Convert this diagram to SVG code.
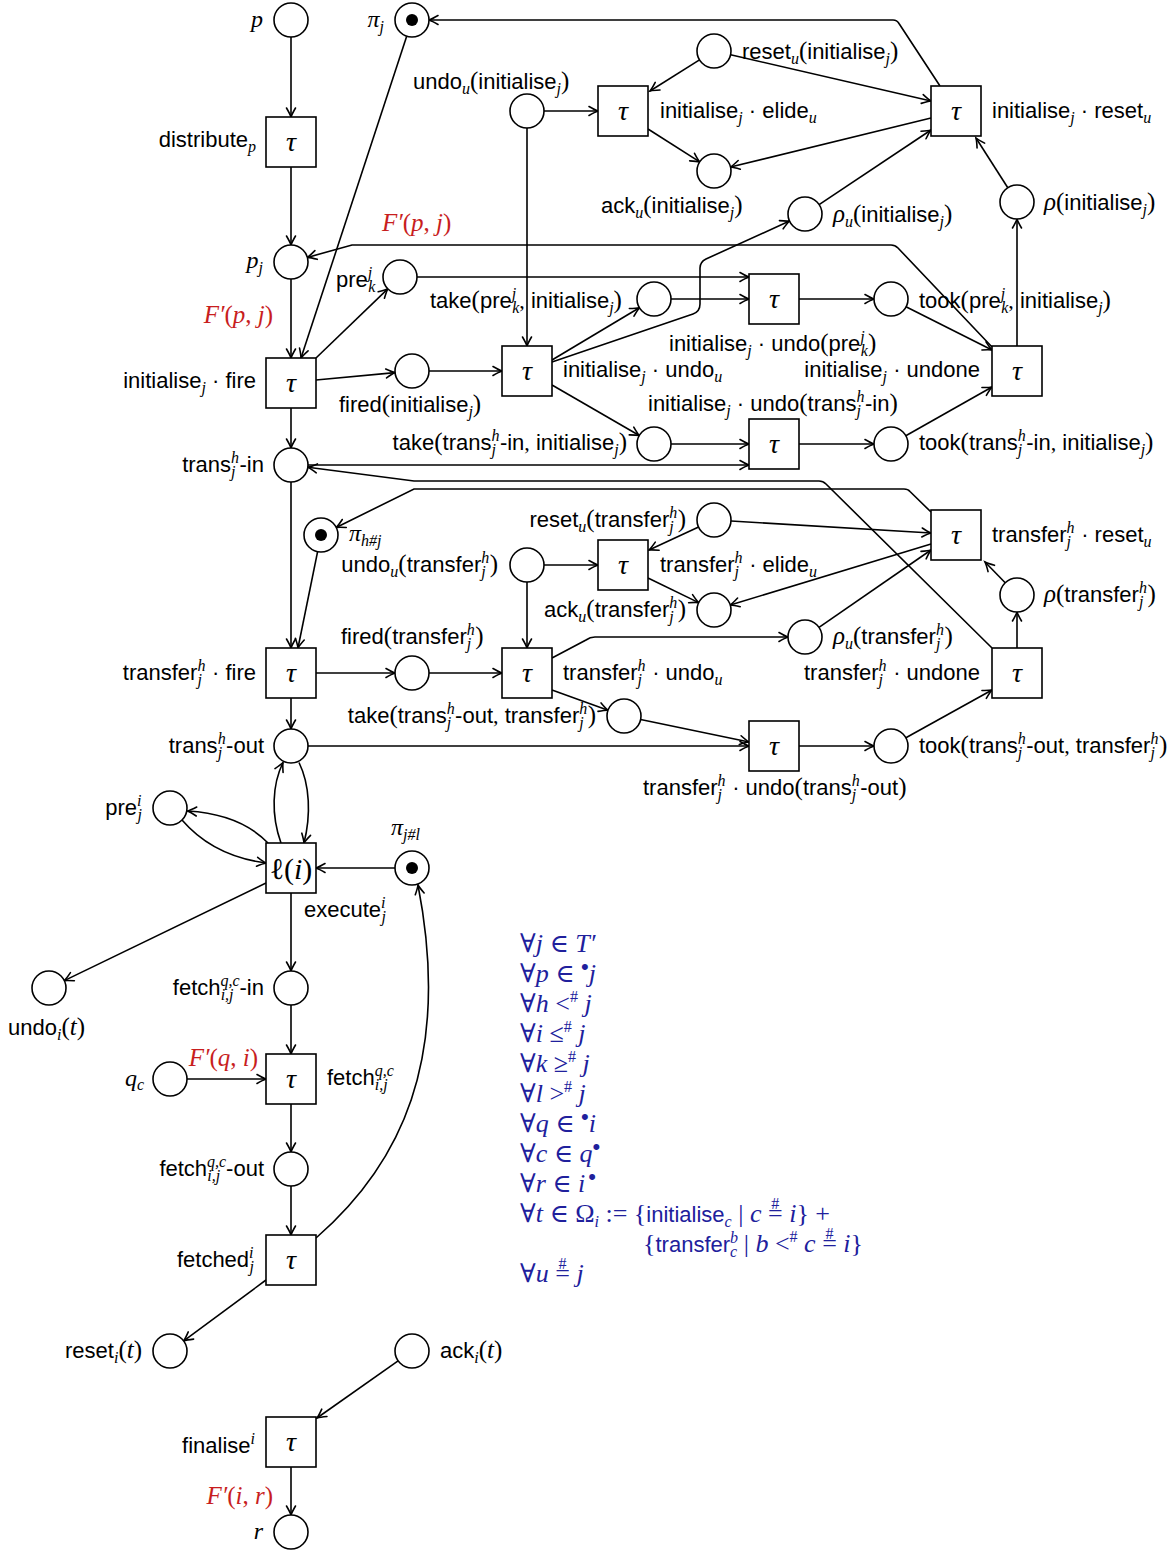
<svg xmlns="http://www.w3.org/2000/svg" width="1175" height="1551" viewBox="0 0 1175 1551">
<defs>
<style>
.s{font-family:"Liberation Sans",Arial,sans-serif;font-size:22px;fill:#000}
.m{font-family:"Liberation Serif","DejaVu Serif",serif;font-style:italic}
.u{font-family:"Liberation Serif","DejaVu Serif",serif;font-style:normal}
.f{font-size:16px}
.L{font-size:25px}
.mt{font-family:"Liberation Serif","DejaVu Serif",serif;font-style:italic;font-size:24px;fill:#000}
.red{font-family:"Liberation Serif","DejaVu Serif",serif;font-style:italic;font-size:25px;fill:#c81e1e}
.bl{font-family:"Liberation Serif","DejaVu Serif",serif;font-style:italic;font-size:26px;fill:#20209c}
.sb{font-family:"Liberation Sans",Arial,sans-serif;font-style:normal;font-size:22px}
.bu{font-family:"Liberation Sans",Arial,sans-serif;font-style:normal;font-size:22px}
.pl{fill:#fff;stroke:#000;stroke-width:1.6}
.tr{fill:#fff;stroke:#000;stroke-width:1.6}
.tok{fill:#000}
.tau{font-family:"Liberation Serif","DejaVu Serif",serif;font-style:italic;font-size:28px;text-anchor:middle}
.c{fill:none;stroke:#000;stroke-width:1.6;marker-end:url(#a)}
</style>
<marker id="a" viewBox="-10 -6 12 12" refX="0" refY="0" markerWidth="12" markerHeight="12" markerUnits="userSpaceOnUse" orient="auto" overflow="visible">
<path d="M-9,-4.5 Q-3,-1 0,0 Q-3,1 -9,4.5" fill="none" stroke="#000" stroke-width="1.6" stroke-linecap="round"/>
</marker>
</defs>
<rect width="1175" height="1551" fill="#fff"/>

<g id="connectors">
<path class="c" d="M291,37 L291,117"/>
<path class="c" d="M291,167 L291,245"/>
<path class="c" d="M406.7,36.2 L301,358"/>
<path class="c" d="M291,279 L291,358"/>
<path class="c" d="M992,347 L898,248 Q895,245 891,245 L352,245 L307.4,257.4"/>
<path class="c" d="M940,86 L899,23.5 Q897,20 893,20 L429,20"/>
<path class="c" d="M316,358 L387.8,288.8"/>
<path class="c" d="M417,277 L749,277"/>
<path class="c" d="M671,299 L749,299"/>
<path class="c" d="M552,360 L639.4,307.7"/>
<path class="c" d="M552,362 L693,314 Q700,311.5 700,304 L700,268 Q700,262 706,259 L789.5,221"/>
<path class="c" d="M799,299 L874,299"/>
<path class="c" d="M906,306.7 L992,350"/>
<path class="c" d="M1017,346 L1017,219"/>
<path class="c" d="M1007.8,187.7 L976,138"/>
<path class="c" d="M819.1,204.6 L931,130"/>
<path class="c" d="M699.5,59.9 L650,91"/>
<path class="c" d="M730.6,54.8 L931,101"/>
<path class="c" d="M648,129 L699.7,161.9"/>
<path class="c" d="M931,118 L730.5,167"/>
<path class="c" d="M544,111 L598,111"/>
<path class="c" d="M527,128 L527,346"/>
<path class="c" d="M316,380 L395.1,372.6"/>
<path class="c" d="M429,371 L502,371"/>
<path class="c" d="M552,385 L639.3,435.5"/>
<path class="c" d="M671,444 L749,444"/>
<path class="c" d="M799,444 L874,444"/>
<path class="c" d="M905.8,435.7 L992,387"/>
<path class="c" d="M291,408 L291,448"/>
<path class="c" d="M308,465 L749,465"/>
<path class="c" d="M992,648 L826,484 Q823,481 819,481 L414,481 L307.9,467.2"/>
<path class="c" d="M931,512 L910,491.5 Q908,489 904,489 L414,489 L336.2,527.5"/>
<path class="c" d="M291,482 L291,648"/>
<path class="c" d="M317.6,551.7 L298,648"/>
<path class="c" d="M698.6,527.1 L649,550"/>
<path class="c" d="M731,521 L931,533"/>
<path class="c" d="M544,565 L598,565"/>
<path class="c" d="M648,578 L698.7,602.6"/>
<path class="c" d="M931,544 L730.3,605"/>
<path class="c" d="M1005.2,582.8 L985,562"/>
<path class="c" d="M819,627.3 L931,550"/>
<path class="c" d="M1017,648 L1017,612"/>
<path class="c" d="M527,582 L527,648"/>
<path class="c" d="M316,673 L395,673"/>
<path class="c" d="M429,673 L502,673"/>
<path class="c" d="M552,658 L586,640 Q590,637 595,637 L788,637"/>
<path class="c" d="M552,690 L608,710.2"/>
<path class="c" d="M640.6,719.5 L749,742"/>
<path class="c" d="M308,746 L749,746"/>
<path class="c" d="M799,746 L874,746"/>
<path class="c" d="M905.9,737.8 L992,690"/>
<path class="c" d="M291,698 L291,729"/>
<path class="c" d="M281,843 C271,815 272,785 283,762.5"/>
<path class="c" d="M299,762.5 C310,785 311,815 304,843"/>
<path class="c" d="M268,843 Q240,814 187.5,811"/>
<path class="c" d="M182,820 Q213,856 266,863"/>
<path class="c" d="M395,868 L316,868"/>
<path class="c" d="M266,883 L64.3,980.6"/>
<path class="c" d="M291,893 L291,971"/>
<path class="c" d="M291,1005 L291,1054"/>
<path class="c" d="M187,1079 L266,1079"/>
<path class="c" d="M291,1104 L291,1152"/>
<path class="c" d="M291,1186 L291,1235"/>
<path class="c" d="M316,1238 C400,1165 452,1060 418,885"/>
<path class="c" d="M266,1280 L183.7,1340.9"/>
<path class="c" d="M398.1,1360.8 L317,1418"/>
<path class="c" d="M291,1467 L291,1515"/>
<text class="red" x="382" y="231">F′<tspan class="u">(</tspan>p<tspan class="u">,</tspan> j<tspan class="u">)</tspan></text>
<text class="red" x="273" y="323" text-anchor="end">F′<tspan class="u">(</tspan>p<tspan class="u">,</tspan> j<tspan class="u">)</tspan></text>
<text class="red" x="258" y="1066" text-anchor="end">F′<tspan class="u">(</tspan>q<tspan class="u">,</tspan> i<tspan class="u">)</tspan></text>
<text class="red" x="273" y="1504" text-anchor="end">F′<tspan class="u">(</tspan>i<tspan class="u">,</tspan> r<tspan class="u">)</tspan></text>
</g>

<!-- left column -->
<g id="p"><circle class="pl" cx="291" cy="20" r="17"/><text class="mt" x="263" y="27" text-anchor="end">p</text></g>
<g id="pi_j"><circle class="pl" cx="412" cy="20" r="17"/><circle class="tok" cx="412" cy="20" r="6"/><text class="mt" x="384" y="27" text-anchor="end">π<tspan class="f" dy="5">j</tspan></text></g>
<g id="distribute"><rect class="tr" x="266" y="117" width="50" height="50"/><text class="tau" x="291" y="151">τ</text><text class="s" x="256" y="147" text-anchor="end">distribute<tspan class="m f" dy="5">p</tspan></text></g>
<g id="p_j"><circle class="pl" cx="291" cy="262" r="17"/><text class="mt" x="263" y="268" text-anchor="end">p<tspan class="f" dy="5">j</tspan></text></g>
<g id="init_fire"><rect class="tr" x="266" y="358" width="50" height="50"/><text class="tau" x="291" y="392">τ</text><text class="s" x="256" y="388" text-anchor="end">initialise<tspan class="m f" dy="5">j</tspan><tspan dy="-5"> · fire</tspan></text></g>
<g id="trans_in"><circle class="pl" cx="291" cy="465" r="17"/><text class="s" x="264" y="472" text-anchor="end">trans<tspan class="m f" dy="-9">h</tspan><tspan class="m f" dx="-8" dy="14">j</tspan><tspan dx="4" dy="-5">-in</tspan></text></g>
<g id="pi_hj"><circle class="pl" cx="321" cy="535" r="17"/><circle class="tok" cx="321" cy="535" r="6"/><text class="mt" x="349" y="541">π<tspan class="f" dy="5">h#j</tspan></text></g>
<g id="transfer_fire"><rect class="tr" x="266" y="648" width="50" height="50"/><text class="tau" x="291" y="682">τ</text><text class="s" x="256" y="680" text-anchor="end">transfer<tspan class="m f" dy="-9">h</tspan><tspan class="m f" dx="-8" dy="14">j</tspan><tspan dx="4" dy="-5"> · fire</tspan></text></g>
<g id="trans_out"><circle class="pl" cx="291" cy="746" r="17"/><text class="s" x="264" y="753" text-anchor="end">trans<tspan class="m f" dy="-9">h</tspan><tspan class="m f" dx="-8" dy="14">j</tspan><tspan dx="4" dy="-5">-out</tspan></text></g>
<g id="pre_ji"><circle class="pl" cx="170" cy="808" r="17"/><text class="s" x="142" y="815" text-anchor="end">pre<tspan class="m f" dy="-9">i</tspan><tspan class="m f" dx="-4" dy="14">j</tspan></text></g>
<g id="ell_i"><rect class="tr" x="266" y="843" width="50" height="50"/><text class="u" x="291" y="879" text-anchor="middle" style="font-size:30px">ℓ(<tspan class="m">i</tspan>)</text><text class="s" x="304" y="917">execute<tspan class="m f" dy="-9">i</tspan><tspan class="m f" dx="-4" dy="14">j</tspan></text></g>
<g id="pi_jl"><circle class="pl" cx="412" cy="868" r="17"/><circle class="tok" cx="412" cy="868" r="6"/><text class="mt" x="391" y="835">π<tspan class="f" dy="5">j#l</tspan></text></g>
<g id="undo_i"><circle class="pl" cx="49" cy="988" r="17"/><text class="s" x="8" y="1035">undo<tspan class="m f" dy="5">i</tspan><tspan class="u L" dy="-5">(</tspan><tspan class="m L">t</tspan><tspan class="u L">)</tspan></text></g>
<g id="fetch_in"><circle class="pl" cx="291" cy="988" r="17"/><text class="s" x="264" y="995" text-anchor="end">fetch<tspan class="m f" dy="-9">q,c</tspan><tspan class="m f" dx="-19" dy="14">i,j</tspan><tspan dx="6" dy="-5">-in</tspan></text></g>
<g id="q_c"><circle class="pl" cx="170" cy="1079" r="17"/><text class="mt" x="144" y="1086" text-anchor="end">q<tspan class="f" dy="4">c</tspan></text></g>
<g id="fetch"><rect class="tr" x="266" y="1054" width="50" height="50"/><text class="tau" x="291" y="1088">τ</text><text class="s" x="327" y="1085">fetch<tspan class="m f" dy="-9">q,c</tspan><tspan class="m f" dx="-19" dy="14">i,j</tspan></text></g>
<g id="fetch_out"><circle class="pl" cx="291" cy="1169" r="17"/><text class="s" x="264" y="1176" text-anchor="end">fetch<tspan class="m f" dy="-9">q,c</tspan><tspan class="m f" dx="-19" dy="14">i,j</tspan><tspan dx="6" dy="-5">-out</tspan></text></g>
<g id="fetched"><rect class="tr" x="266" y="1235" width="50" height="50"/><text class="tau" x="291" y="1269">τ</text><text class="s" x="254" y="1267" text-anchor="end">fetched<tspan class="m f" dy="-9">i</tspan><tspan class="m f" dx="-4" dy="14">j</tspan></text></g>
<g id="reset_i"><circle class="pl" cx="170" cy="1351" r="17"/><text class="s" x="142" y="1358" text-anchor="end">reset<tspan class="m f" dy="5">i</tspan><tspan class="u L" dy="-5">(</tspan><tspan class="m L">t</tspan><tspan class="u L">)</tspan></text></g>
<g id="ack_i"><circle class="pl" cx="412" cy="1351" r="17"/><text class="s" x="440" y="1358">ack<tspan class="m f" dy="5">i</tspan><tspan class="u L" dy="-5">(</tspan><tspan class="m L">t</tspan><tspan class="u L">)</tspan></text></g>
<g id="finalise"><rect class="tr" x="266" y="1417" width="50" height="50"/><text class="tau" x="291" y="1451">τ</text><text class="s" x="255" y="1453" text-anchor="end">finalise<tspan class="m f" dy="-9">i</tspan></text></g>
<g id="r"><circle class="pl" cx="291" cy="1532" r="17"/><text class="mt" x="263" y="1539" text-anchor="end">r</text></g>

<!-- initialise undo region -->
<g id="undo_u_init"><circle class="pl" cx="527" cy="111" r="17"/><text class="s" x="413" y="89">undo<tspan class="m f" dy="5">u</tspan><tspan class="u L" dy="-5">(</tspan>initialise<tspan class="m f" dy="5">j</tspan><tspan class="u L" dy="-5">)</tspan></text></g>
<g id="elide_init"><rect class="tr" x="598" y="86" width="50" height="50"/><text class="tau" x="623" y="120">τ</text><text class="s" x="660" y="118">initialise<tspan class="m f" dy="5">j</tspan><tspan dy="-5"> · elide</tspan><tspan class="m f" dy="5">u</tspan></text></g>
<g id="reset_u_init_p"><circle class="pl" cx="714" cy="51" r="17"/><text class="s" x="742" y="59">reset<tspan class="m f" dy="5">u</tspan><tspan class="u L" dy="-5">(</tspan>initialise<tspan class="m f" dy="5">j</tspan><tspan class="u L" dy="-5">)</tspan></text></g>
<g id="ack_u_init"><circle class="pl" cx="714" cy="171" r="17"/><text class="s" x="601" y="213">ack<tspan class="m f" dy="5">u</tspan><tspan class="u L" dy="-5">(</tspan>initialise<tspan class="m f" dy="5">j</tspan><tspan class="u L" dy="-5">)</tspan></text></g>
<g id="reset_init_t"><rect class="tr" x="931" y="86" width="50" height="50"/><text class="tau" x="956" y="120">τ</text><text class="s" x="992" y="118">initialise<tspan class="m f" dy="5">j</tspan><tspan dy="-5"> · reset</tspan><tspan class="m f" dy="5">u</tspan></text></g>
<g id="rho_u_init"><circle class="pl" cx="805" cy="214" r="17"/><text class="s" x="833" y="222"><tspan class="m L">ρ</tspan><tspan class="m f" dy="5">u</tspan><tspan class="u L" dy="-5">(</tspan>initialise<tspan class="m f" dy="5">j</tspan><tspan class="u L" dy="-5">)</tspan></text></g>
<g id="rho_init"><circle class="pl" cx="1017" cy="202" r="17"/><text class="s" x="1044" y="210"><tspan class="m L">ρ</tspan><tspan class="u L">(</tspan>initialise<tspan class="m f" dy="5">j</tspan><tspan class="u L" dy="-5">)</tspan></text></g>
<g id="pre_kj"><circle class="pl" cx="400" cy="277" r="17"/><text class="s" x="336" y="287">pre<tspan class="m f" dy="-9">j</tspan><tspan class="m f" dx="-4" dy="14">k</tspan></text></g>
<g id="take_pre"><circle class="pl" cx="654" cy="299" r="17"/><text class="s" x="430" y="308">take<tspan class="u L">(</tspan>pre<tspan class="m f" dy="-9">j</tspan><tspan class="m f" dx="-4" dy="14">k</tspan><tspan class="u" dy="-5">,</tspan> initialise<tspan class="m f" dy="5">j</tspan><tspan class="u L" dy="-5">)</tspan></text></g>
<g id="undo_pre"><rect class="tr" x="749" y="274" width="50" height="50"/><text class="tau" x="774" y="308">τ</text><text class="s" x="669" y="351">initialise<tspan class="m f" dy="5">j</tspan><tspan dy="-5"> · undo</tspan><tspan class="u L">(</tspan>pre<tspan class="m f" dy="-9">j</tspan><tspan class="m f" dx="-4" dy="14">k</tspan><tspan class="u L" dy="-5">)</tspan></text></g>
<g id="took_pre"><circle class="pl" cx="891" cy="299" r="17"/><text class="s" x="919" y="308">took<tspan class="u L">(</tspan>pre<tspan class="m f" dy="-9">j</tspan><tspan class="m f" dx="-4" dy="14">k</tspan><tspan class="u" dy="-5">,</tspan> initialise<tspan class="m f" dy="5">j</tspan><tspan class="u L" dy="-5">)</tspan></text></g>
<g id="undone_init"><rect class="tr" x="992" y="346" width="50" height="50"/><text class="tau" x="1017" y="380">τ</text><text class="s" x="980" y="377" text-anchor="end">initialise<tspan class="m f" dy="5">j</tspan><tspan dy="-5"> · undone</tspan></text></g>
<g id="fired_init"><circle class="pl" cx="412" cy="371" r="17"/><text class="s" x="339" y="412">fired<tspan class="u L">(</tspan>initialise<tspan class="m f" dy="5">j</tspan><tspan class="u L" dy="-5">)</tspan></text></g>
<g id="undo_u_init_t"><rect class="tr" x="502" y="346" width="50" height="50"/><text class="tau" x="527" y="380">τ</text><text class="s" x="563" y="377">initialise<tspan class="m f" dy="5">j</tspan><tspan dy="-5"> · undo</tspan><tspan class="m f" dy="5">u</tspan></text></g>
<g id="take_tin"><circle class="pl" cx="654" cy="444" r="17"/><text class="s" x="627" y="450" text-anchor="end">take<tspan class="u L">(</tspan>trans<tspan class="m f" dy="-9">h</tspan><tspan class="m f" dx="-8" dy="14">j</tspan><tspan dx="4" dy="-5">-in</tspan><tspan class="u">,</tspan> initialise<tspan class="m f" dy="5">j</tspan><tspan class="u L" dy="-5">)</tspan></text></g>
<g id="undo_tin"><rect class="tr" x="749" y="419" width="50" height="50"/><text class="tau" x="774" y="453">τ</text><text class="s" x="648" y="411">initialise<tspan class="m f" dy="5">j</tspan><tspan dy="-5"> · undo</tspan><tspan class="u L">(</tspan>trans<tspan class="m f" dy="-9">h</tspan><tspan class="m f" dx="-8" dy="14">j</tspan><tspan dx="4" dy="-5">-in</tspan><tspan class="u L">)</tspan></text></g>
<g id="took_tin"><circle class="pl" cx="891" cy="444" r="17"/><text class="s" x="919" y="450">took<tspan class="u L">(</tspan>trans<tspan class="m f" dy="-9">h</tspan><tspan class="m f" dx="-8" dy="14">j</tspan><tspan dx="4" dy="-5">-in</tspan><tspan class="u">,</tspan> initialise<tspan class="m f" dy="5">j</tspan><tspan class="u L" dy="-5">)</tspan></text></g>

<!-- transfer undo region -->
<g id="reset_u_tr_p"><circle class="pl" cx="714" cy="520" r="17"/><text class="s" x="686" y="527" text-anchor="end">reset<tspan class="m f" dy="5">u</tspan><tspan class="u L" dy="-5">(</tspan>transfer<tspan class="m f" dy="-9">h</tspan><tspan class="m f" dx="-8" dy="14">j</tspan><tspan class="u L" dx="4" dy="-5">)</tspan></text></g>
<g id="reset_tr_t"><rect class="tr" x="931" y="510" width="50" height="50"/><text class="tau" x="956" y="544">τ</text><text class="s" x="992" y="542">transfer<tspan class="m f" dy="-9">h</tspan><tspan class="m f" dx="-8" dy="14">j</tspan><tspan dx="4" dy="-5"> · reset</tspan><tspan class="m f" dy="5">u</tspan></text></g>
<g id="undo_u_tr_p"><circle class="pl" cx="527" cy="565" r="17"/><text class="s" x="498" y="572" text-anchor="end">undo<tspan class="m f" dy="5">u</tspan><tspan class="u L" dy="-5">(</tspan>transfer<tspan class="m f" dy="-9">h</tspan><tspan class="m f" dx="-8" dy="14">j</tspan><tspan class="u L" dx="4" dy="-5">)</tspan></text></g>
<g id="elide_tr"><rect class="tr" x="598" y="540" width="50" height="50"/><text class="tau" x="623" y="574">τ</text><text class="s" x="660" y="572">transfer<tspan class="m f" dy="-9">h</tspan><tspan class="m f" dx="-8" dy="14">j</tspan><tspan dx="4" dy="-5"> · elide</tspan><tspan class="m f" dy="5">u</tspan></text></g>
<g id="ack_u_tr"><circle class="pl" cx="714" cy="610" r="17"/><text class="s" x="686" y="617" text-anchor="end">ack<tspan class="m f" dy="5">u</tspan><tspan class="u L" dy="-5">(</tspan>transfer<tspan class="m f" dy="-9">h</tspan><tspan class="m f" dx="-8" dy="14">j</tspan><tspan class="u L" dx="4" dy="-5">)</tspan></text></g>
<g id="rho_tr"><circle class="pl" cx="1017" cy="595" r="17"/><text class="s" x="1044" y="602"><tspan class="m L">ρ</tspan><tspan class="u L">(</tspan>transfer<tspan class="m f" dy="-9">h</tspan><tspan class="m f" dx="-8" dy="14">j</tspan><tspan class="u L" dx="4" dy="-5">)</tspan></text></g>
<g id="rho_u_tr"><circle class="pl" cx="805" cy="637" r="17"/><text class="s" x="833" y="644"><tspan class="m L">ρ</tspan><tspan class="m f" dy="5">u</tspan><tspan class="u L" dy="-5">(</tspan>transfer<tspan class="m f" dy="-9">h</tspan><tspan class="m f" dx="-8" dy="14">j</tspan><tspan class="u L" dx="4" dy="-5">)</tspan></text></g>
<g id="fired_tr"><circle class="pl" cx="412" cy="673" r="17"/><text class="s" x="341" y="644">fired<tspan class="u L">(</tspan>transfer<tspan class="m f" dy="-9">h</tspan><tspan class="m f" dx="-8" dy="14">j</tspan><tspan class="u L" dx="4" dy="-5">)</tspan></text></g>
<g id="undo_u_tr_t"><rect class="tr" x="502" y="648" width="50" height="50"/><text class="tau" x="527" y="682">τ</text><text class="s" x="563" y="680">transfer<tspan class="m f" dy="-9">h</tspan><tspan class="m f" dx="-8" dy="14">j</tspan><tspan dx="4" dy="-5"> · undo</tspan><tspan class="m f" dy="5">u</tspan></text></g>
<g id="undone_tr"><rect class="tr" x="992" y="648" width="50" height="50"/><text class="tau" x="1017" y="682">τ</text><text class="s" x="980" y="680" text-anchor="end">transfer<tspan class="m f" dy="-9">h</tspan><tspan class="m f" dx="-8" dy="14">j</tspan><tspan dx="4" dy="-5"> · undone</tspan></text></g>
<g id="take_tout"><circle class="pl" cx="624" cy="716" r="17"/><text class="s" x="596" y="723" text-anchor="end">take<tspan class="u L">(</tspan>trans<tspan class="m f" dy="-9">h</tspan><tspan class="m f" dx="-8" dy="14">j</tspan><tspan dx="4" dy="-5">-out</tspan><tspan class="u">,</tspan> transfer<tspan class="m f" dy="-9">h</tspan><tspan class="m f" dx="-8" dy="14">j</tspan><tspan class="u L" dx="4" dy="-5">)</tspan></text></g>
<g id="undo_tout"><rect class="tr" x="749" y="721" width="50" height="50"/><text class="tau" x="774" y="755">τ</text><text class="s" x="643" y="795">transfer<tspan class="m f" dy="-9">h</tspan><tspan class="m f" dx="-8" dy="14">j</tspan><tspan dx="4" dy="-5"> · undo</tspan><tspan class="u L">(</tspan>trans<tspan class="m f" dy="-9">h</tspan><tspan class="m f" dx="-8" dy="14">j</tspan><tspan dx="4" dy="-5">-out</tspan><tspan class="u L">)</tspan></text></g>
<g id="took_tout"><circle class="pl" cx="891" cy="746" r="17"/><text class="s" x="919" y="753">took<tspan class="u L">(</tspan>trans<tspan class="m f" dy="-9">h</tspan><tspan class="m f" dx="-8" dy="14">j</tspan><tspan dx="4" dy="-5">-out</tspan><tspan class="u">,</tspan> transfer<tspan class="m f" dy="-9">h</tspan><tspan class="m f" dx="-8" dy="14">j</tspan><tspan class="u L" dx="4" dy="-5">)</tspan></text></g>

<g id="constraints" class="bl">
<text x="520" y="952"><tspan class="u">∀</tspan>j <tspan class="u">∈</tspan> T′</text>
<text x="520" y="982"><tspan class="u">∀</tspan>p <tspan class="u">∈ </tspan><tspan class="bu" dy="-8">•</tspan><tspan dy="8">j</tspan></text>
<text x="520" y="1012"><tspan class="u">∀</tspan>h <tspan class="u">&lt;</tspan><tspan class="u f" dy="-10">#</tspan><tspan dy="10"> j</tspan></text>
<text x="520" y="1042"><tspan class="u">∀</tspan>i <tspan class="u">≤</tspan><tspan class="u f" dy="-10">#</tspan><tspan dy="10"> j</tspan></text>
<text x="520" y="1072"><tspan class="u">∀</tspan>k <tspan class="u">≥</tspan><tspan class="u f" dy="-10">#</tspan><tspan dy="10"> j</tspan></text>
<text x="520" y="1102"><tspan class="u">∀</tspan>l <tspan class="u">&gt;</tspan><tspan class="u f" dy="-10">#</tspan><tspan dy="10"> j</tspan></text>
<text x="520" y="1132"><tspan class="u">∀</tspan>q <tspan class="u">∈ </tspan><tspan class="bu" dy="-8">•</tspan><tspan dy="8">i</tspan></text>
<text x="520" y="1162"><tspan class="u">∀</tspan>c <tspan class="u">∈</tspan> q<tspan class="bu" dy="-8">•</tspan></text>
<text x="520" y="1192"><tspan class="u">∀</tspan>r <tspan class="u">∈</tspan> i<tspan class="bu" dx="3" dy="-8">•</tspan></text>
<text x="520" y="1222"><tspan class="u">∀</tspan>t <tspan class="u">∈ Ω</tspan><tspan class="f" dy="5">i</tspan><tspan class="u" dy="-5"> := {</tspan><tspan class="sb">initialise</tspan><tspan class="f" dy="5">c</tspan><tspan class="u" dy="-5"> | </tspan>c <tspan class="u">=</tspan><tspan class="u f" dx="-11.3" dy="-13">#</tspan><tspan dx="3.3" dy="13"> i</tspan><tspan class="u">} +</tspan></text>
<text x="643" y="1252"><tspan class="u">{</tspan><tspan class="sb">transfer</tspan><tspan class="f" dy="-9">b</tspan><tspan class="f" dx="-8" dy="14">c</tspan><tspan class="u" dy="-5"> | </tspan>b <tspan class="u">&lt;</tspan><tspan class="u f" dy="-10">#</tspan><tspan dy="10"> c </tspan><tspan class="u">=</tspan><tspan class="u f" dx="-11.3" dy="-13">#</tspan><tspan dx="3.3" dy="13"> i</tspan><tspan class="u">}</tspan></text>
<text x="520" y="1282"><tspan class="u">∀</tspan>u <tspan class="u">=</tspan><tspan class="u f" dx="-11.3" dy="-13">#</tspan><tspan dx="3.3" dy="13"> j</tspan></text>
</g>
</svg>
